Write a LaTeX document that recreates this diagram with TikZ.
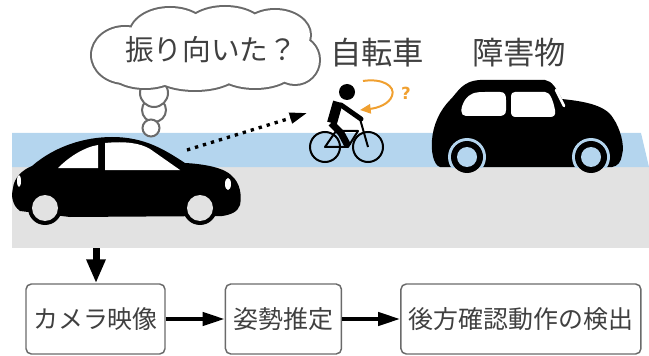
\documentclass[tikz,border=0pt]{standalone}
\usepackage{fontspec}
\setmainfont{Noto Sans CJK JP}
\newfontfamily\markfont{DejaVu Sans}
\usetikzlibrary{arrows.meta,positioning}

\definecolor{roadblue}{HTML}{B4D5EE}
\definecolor{roadgray}{HTML}{E2E2E2}
\definecolor{textgray}{HTML}{404040}
\definecolor{linegray}{HTML}{6A6A6A}
\definecolor{turnorange}{HTML}{F0A030}

\begin{document}
\begin{tikzpicture}[x=0.75pt,y=-0.75pt,
  stepbox/.style={draw=linegray,line width=1.1pt,rounded corners=4pt,
    minimum height=52.5pt,inner sep=0pt,text=textgray,
    font=\fontsize{18.7}{20}\selectfont},
  flow/.style={line width=3pt,-{Triangle[length=16.5pt,width=9.75pt]}},
  objname/.style={text=textgray,font=\fontsize{23.5}{26}\selectfont},
  puff/.style={draw=linegray,line width=1.5pt,fill=white}]
\useasboundingbox (0,0) rectangle (649,356);

% road: sidewalk strip and lane
\fill[roadgray] (12,167) rectangle (649,248);
\fill[roadblue] (12,133) -- (641,133) -- (649,167) -- (12,167) -- cycle;

% own car
\fill[black] (20,211) .. controls (12,205) and (11,196) .. (13,188)
  .. controls (14,178) and (22,170) .. (32,166)
  .. controls (55,146) and (85,137) .. (112,137)
  .. controls (145,137) and (165,150) .. (185,163)
  .. controls (205,164) and (225,168) .. (232,176)
  .. controls (240,183) and (242,195) .. (240,205)
  .. controls (238,212) and (230,215) .. (222,216)
  -- (70,217) -- cycle;
\fill[black] (45,208) circle (17) (200,208) circle (17);
\fill[roadgray] (45,208) circle (13) (200,208) circle (13);
\fill[white] (58,168) .. controls (70,156) and (85,147) .. (98,145) -- (98,168) -- cycle;
\fill[white] (105,143) .. controls (125,141) and (140,143) .. (150,149)
  -- (180,170) -- (105,170) -- cycle;
\fill[white] (228,184) ellipse [x radius=3, y radius=6];
\fill[white] (19,181) ellipse [x radius=2, y radius=6];

% obstacle car
\fill[black] (440,167) .. controls (433,165) and (431,150) .. (432,140)
  .. controls (433,125) and (440,110) .. (450,100)
  .. controls (458,92) and (462,81) .. (480,80)
  -- (545,80) .. controls (552,81) and (556,88) .. (562,99)
  .. controls (580,101) and (605,104) .. (613,118)
  .. controls (620,128) and (625,145) .. (622,155)
  .. controls (621,162) and (618,166) .. (612,167) -- cycle;
\begin{scope}
  \clip (425,133) rectangle (640,167);
  \fill[roadblue] (467,157) circle (19) (591,157) circle (19);
\end{scope}
\fill[black] (467,157) circle (16) (591,157) circle (16);
\fill[roadblue] (467,157) circle (10) (591,157) circle (10);
\fill[white] (466,116) .. controls (460,116) and (460,108) .. (465,100)
  .. controls (470,93) and (475,92) .. (485,92) -- (500,92)
  .. controls (505,92) and (506,95) .. (506,100) -- (506,110)
  .. controls (506,115) and (503,116) .. (498,116) -- cycle;
\fill[white] (515,92) -- (545,92) .. controls (550,92) and (553,100) .. (555,110)
  .. controls (556,115) and (554,117) .. (550,117) -- (516,117)
  .. controls (512,117) and (511,115) .. (511,111) -- (511,97)
  .. controls (511,93) and (513,92) .. (515,92) -- cycle;
\draw[white,line width=2pt,line cap=round] (556,90) -- (564,106);

% bicycle and rider
\draw[line width=1.5pt] (325,147) circle (15) (368,147) circle (15);
\draw[line width=1.5pt,line join=round] (325,147) -- (348,147) -- (358,131) -- (336,131) -- cycle;
\draw[line width=1.5pt] (360,119) -- (368,147);
\fill (347,92) circle (8);
\draw[line width=7.5pt] (338,102) -- (332,123);
\draw[line width=3.75pt,line cap=round] (341,105) -- (361,119);
\draw[line width=5.25pt,line join=round] (331,123) -- (341,133) -- (348,146);
\draw[turnorange,line width=1.5pt,-{Triangle[length=8pt,width=7pt]}]
  (363,81) .. controls (382,78) and (396,86) .. (392,96)
  .. controls (389,104) and (378,108) .. (360,110);
\node[text=turnorange,font=\markfont\bfseries\fontsize{12.5}{13}\selectfont] (turnmark) at (406,93) {?};

% thought bubble
\draw[puff] (154,110) circle (12);
\draw[puff] (151,128) circle (8.5);
\draw[puff] (154,93) circle (14);
\foreach \cx/\cy/\rx/\ry in {125/55/33/28, 170/35/40/27, 225/30/40/23, 275/35/35/25,
    295/60/24/24, 255/68/40/20, 195/70/45/20, 145/70/35/18}
  \draw[linegray,line width=3pt] (\cx,\cy) ellipse [x radius=\rx, y radius=\ry];
\foreach \cx/\cy/\rx/\ry in {125/55/33/28, 170/35/40/27, 225/30/40/23, 275/35/35/25,
    295/60/24/24, 255/68/40/20, 195/70/45/20, 145/70/35/18, 210/50/80/30}
  \fill[white] (\cx,\cy) ellipse [x radius=\rx, y radius=\ry];
\node[text=textgray,font=\fontsize{21.5}{24}\selectfont] (thought) at (211,50) {振り向いた？};

% names above the road
\node[objname] (bike) at (377,53) {自転車};
\node[objname] (obstacle) at (519,53) {障害物};

% view from the car towards the cyclist
\coordinate (carview) at (187,150);
\coordinate (bikeview) at (307,113);
\draw[line width=2.5pt,dash pattern=on 2.5pt off 3.75pt,
  -{Triangle[length=13pt,width=8pt]}] (carview) -- (bikeview);

% processing steps
\node[stepbox,minimum width=104.25pt] (cam) at (95.5,319) {カメラ映像};
\node[stepbox,minimum width=87pt,right=44.25pt of cam] (pose) {姿勢推定};
\node[stepbox,minimum width=180pt,right=43.5pt of pose] (detect) {後方確認動作の検出};
\coordinate (roadedge) at (96,248);
\draw[line width=5.25pt,-{Triangle[length=18pt,width=13.5pt]}] (roadedge) -- (roadedge |- cam.north);
\draw[flow] (cam) -- (pose);
\draw[flow] (pose) -- (detect);
\end{tikzpicture}
\end{document}
